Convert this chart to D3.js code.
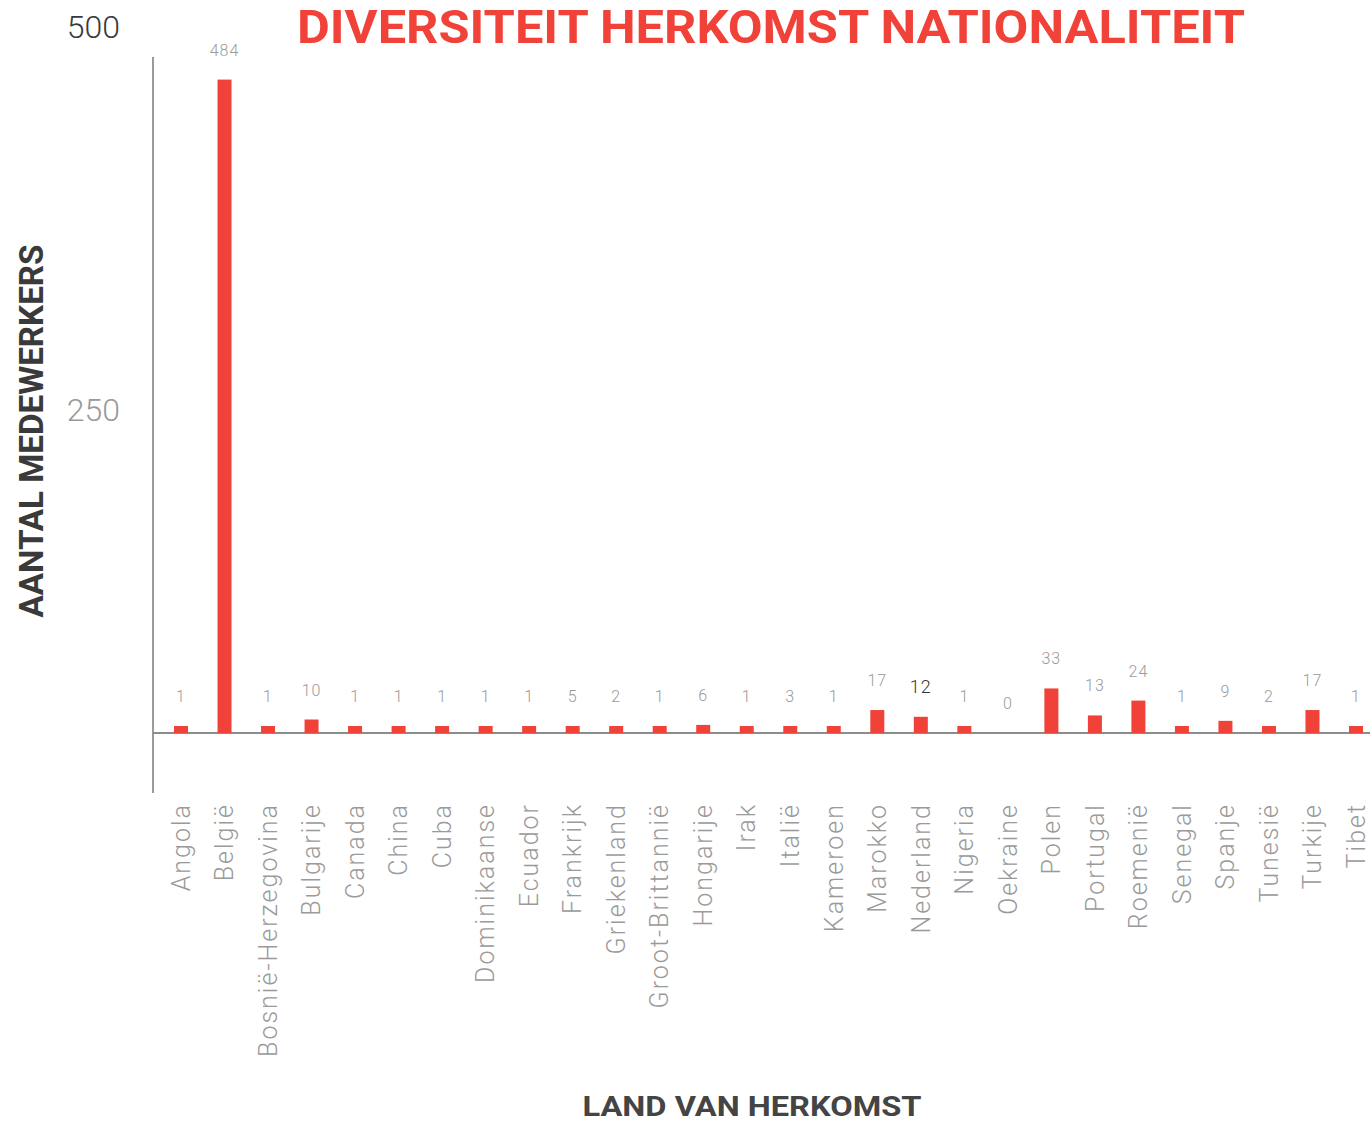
<!DOCTYPE html>
<html>
<head>
<meta charset="utf-8">
<script src="https://cdn.jsdelivr.net/npm/d3@7"></script>
<style>
  body { margin: 0; background: #fff; }
  svg { display: block; font-family: Roboto, "Noto Sans", sans-serif; }
</style>
</head>
<body>
<svg id="chart" width="1370" height="1123"></svg>
<script>
// countries and number of employees
const countries = [
  "Angola", "België", "Bosnië-Herzegovina", "Bulgarije", "Canada", "China", "Cuba",
  "Dominikaanse", "Ecuador", "Frankrijk", "Griekenland", "Groot-Brittannië", "Hongarije",
  "Irak", "Italië", "Kameroen", "Marokko", "Nederland", "Nigeria", "Oekraine", "Polen",
  "Portugal", "Roemenië", "Senegal", "Spanje", "Tunesië", "Turkije", "Tibet"
];
const employees = [
  1, 484, 1, 10, 1, 1, 1,
  1, 1, 5, 2, 1, 6,
  1, 3, 1, 17, 12, 1, 0, 33,
  13, 24, 1, 9, 2, 17, 1
];
const yTicks = [250, 500];
const highlighted = "Nederland"; // its value label is darker in the original

const RED = "#f04238";
const MIN_BAR = 7; // tiny values still get a visible bar

const data = countries.map((c, i) => ({ country: c, value: employees[i] }));

const svg = d3.select("#chart");

const x = d3.scalePoint()
  .domain(countries)
  .range([181, 1356]);

// bars grow from the baseline
const yBar = d3.scaleLinear().domain([0, 500]).range([733, 58]);
// the tick labels of the original sit on the full length of the axis line
const yLabel = d3.scaleLinear().domain([0, 500]).range([793, 27]);

// title
svg.append("text")
  .attr("x", 771)
  .attr("y", 43)
  .attr("text-anchor", "middle")
  .attr("fill", RED)
  .attr("font-size", 46)
  .attr("font-weight", 700)
  .attr("textLength", 948)
  .attr("lengthAdjust", "spacingAndGlyphs")
  .text("DIVERSITEIT HERKOMST NATIONALITEIT");

// axis lines
svg.append("line")
  .attr("x1", 153).attr("x2", 153)
  .attr("y1", 57).attr("y2", 793)
  .attr("stroke", "#9a9a9a")
  .attr("stroke-width", 2);

svg.append("line")
  .attr("x1", 153).attr("x2", 1370)
  .attr("y1", yBar(0)).attr("y2", yBar(0))
  .attr("stroke", "#8c8c8c")
  .attr("stroke-width", 2);

// y tick labels
const yAxis = svg.append("g")
  .attr("transform", "translate(120,0)")
  .call(d3.axisLeft(yLabel).tickValues(yTicks).tickSize(0).tickPadding(0));
yAxis.select(".domain").remove();
yAxis.selectAll("text")
  .attr("font-family", "Roboto, sans-serif")
  .attr("font-size", 32)
  .attr("font-weight", 300)
  .attr("fill", d => d === 500 ? "#3a3a3a" : "#9a9a9a");

// bars
const barTop = d => d.value > 0 ? Math.min(yBar(d.value), yBar(0) - MIN_BAR) : yBar(0);

svg.append("g")
  .selectAll("rect")
  .data(data.filter(d => d.value > 0))
  .join("rect")
  .attr("x", d => x(d.country) - 7)
  .attr("width", 14)
  .attr("y", barTop)
  .attr("height", d => yBar(0) - barTop(d))
  .attr("fill", RED);

// value labels
svg.append("g")
  .selectAll("text")
  .data(data)
  .join("text")
  .attr("x", d => x(d.country))
  .attr("y", d => barTop(d) - 24)
  .attr("text-anchor", "middle")
  .attr("font-size", d => d.country === highlighted ? 18 : 16)
  .attr("font-weight", 300)
  .attr("letter-spacing", 1)
  .attr("fill", d => d.country === highlighted ? "#333" : "#9a9a9a")
  .text(d => d.value);

// country labels
svg.append("g")
  .selectAll("text")
  .data(countries)
  .join("text")
  .attr("transform", d => `translate(${x(d)},803) rotate(-90)`)
  .attr("dy", "0.35em")
  .attr("text-anchor", "end")
  .attr("font-size", 25)
  .attr("font-weight", 300)
  .attr("letter-spacing", 2)
  .attr("fill", "#9a9a9a")
  .text(d => d);

// axis titles
svg.append("text")
  .attr("transform", "translate(43,431) rotate(-90)")
  .attr("text-anchor", "middle")
  .attr("font-size", 33)
  .attr("font-weight", 700)
  .attr("fill", "#3a3a3a")
  .attr("textLength", 373)
  .attr("lengthAdjust", "spacingAndGlyphs")
  .text("AANTAL MEDEWERKERS");

svg.append("text")
  .attr("x", 752)
  .attr("y", 1116)
  .attr("text-anchor", "middle")
  .attr("font-size", 28)
  .attr("font-weight", 700)
  .attr("fill", "#444")
  .attr("textLength", 339)
  .attr("lengthAdjust", "spacingAndGlyphs")
  .text("LAND VAN HERKOMST");
</script>
</body>
</html>
